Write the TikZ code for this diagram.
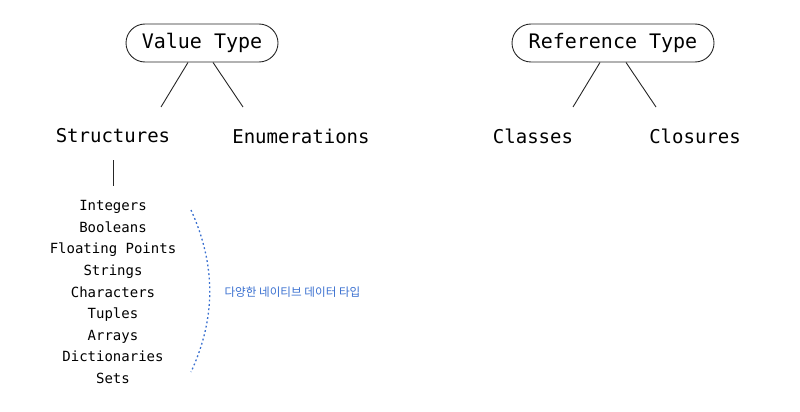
\documentclass[tikz,border=0pt]{standalone}
\usepackage{fontspec}
\setmonofont{DejaVu Sans Mono}
\newfontfamily\krfont{Noto Sans CJK KR}
\definecolor{noteblue}{RGB}{58,112,208}

\begin{document}
\begin{tikzpicture}[
    x=1pt, y=-1pt,
    typebox/.style={rectangle, rounded corners=19pt, minimum height=38pt, draw=black!85, line width=0.9pt, font=\ttfamily\fontsize{20}{24}\selectfont},
    kind/.style={font=\ttfamily\fontsize{19}{23}\selectfont},
    branch/.style={line width=0.9pt, black!85},
    natives/.style={align=center, font=\ttfamily\fontsize{14}{21.6}\selectfont}
]
\useasboundingbox (0,0) rectangle (800,412);

% Top row: the two type families
\node (valuetype) [typebox, minimum width=152pt] at (202,43) {Value Type};
\node (reftype) [typebox, minimum width=202pt] at (613,43) {Reference Type};

% Second row: kinds
\node (structs) [kind] at (113,136) {Structures};
\node (enums) [kind] at (301,136) {Enumerations};
\node (classes) [kind] at (533,136) {Classes};
\node (closures) [kind] at (695,136) {Closures};

% Line ends
\coordinate (vt-l) at (161,107);
\coordinate (vt-r) at (243,107);
\coordinate (rt-l) at (573,107);
\coordinate (rt-r) at (656,107);
\coordinate (st-top) at (113,160);
\coordinate (st-bot) at (113,186);

% Branches
\draw[branch] ([xshift=-14pt]valuetype.south) -- (vt-l);
\draw[branch] ([xshift=11pt]valuetype.south) -- (vt-r);
\draw[branch] ([xshift=-13pt]reftype.south) -- (rt-l);
\draw[branch] ([xshift=13pt]reftype.south) -- (rt-r);
\draw[branch] (st-top) -- (st-bot);

% Native types under Structures
\node (list) [natives] at (113,292) {Integers\\Booleans\\Floating Points\\Strings\\Characters\\Tuples\\Arrays\\Dictionaries\\Sets};

% Bracket and note
\coordinate (arc-top) at (191,210);
\coordinate (arc-bot) at (191,372);
\draw[noteblue, line width=1.3pt, dash pattern=on 1.8pt off 2.6pt] (arc-top) .. controls (216,265) and (216,318) .. (arc-bot);
\node (note) [anchor=west, text=noteblue, font=\krfont\fontsize{11.6}{14}\selectfont] at (221,292) {다양한 네이티브 데이터 타입};

\end{tikzpicture}
\end{document}
